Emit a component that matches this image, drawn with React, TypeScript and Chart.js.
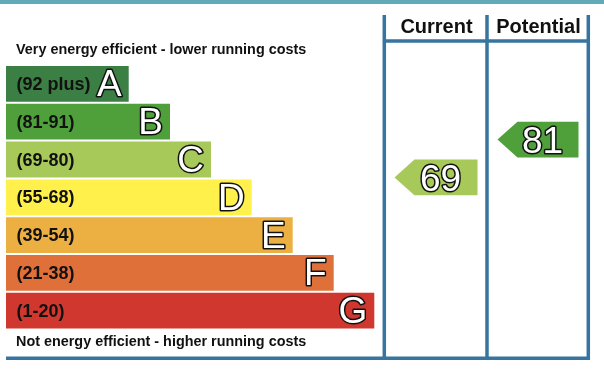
import React, { useEffect, useRef } from 'react';
import { Chart, registerables } from 'chart.js';

Chart.register(...registerables);

const bandLetters = ['A', 'B', 'C', 'D', 'E', 'F', 'G'];
const bandRanges = ['(92 plus)', '(81-91)', '(69-80)', '(55-68)', '(39-54)', '(21-38)', '(1-20)'];
const bandMin = [92, 81, 69, 55, 39, 21, 1];
const bandMax = [100, 91, 80, 68, 54, 38, 20];
const bandLengths = [122.7, 164, 205, 245.7, 286.7, 327.7, 368.3];
const bandColors = ['#3b7f45', '#4fa03b', '#a6c95a', '#fff04c', '#ecb042', '#e0703a', '#d0372f'];
const columnTitles = ['Current', 'Potential'];
const columnRatings = [69, 81];
const topCaption = 'Very energy efficient - lower running costs';
const bottomCaption = 'Not energy efficient - higher running costs';

const FONT = '"Liberation Sans", Arial, Helvetica, sans-serif';
const LINE = '#3775a0';

// layout of the right-hand table (pixels)
const COLS = [
  { left: 386, right: 486 },
  { left: 489, right: 587 },
];

function bandIndexFor(rating: number) {
  for (let i = 0; i < bandMin.length; i++) {
    if (rating >= bandMin[i] && rating <= bandMax[i]) return i;
  }
  return bandMin.length - 1;
}

function outlinedText(ctx: CanvasRenderingContext2D, text: string, x: number, y: number) {
  ctx.lineJoin = 'round';
  ctx.lineWidth = 3;
  ctx.strokeStyle = '#111';
  ctx.strokeText(text, x, y);
  ctx.fillStyle = '#ffffff';
  ctx.fillText(text, x, y);
}

const epcPlugin = {
  id: 'epc',
  beforeDraw(chart: any) {
    const ctx: CanvasRenderingContext2D = chart.ctx;
    ctx.save();
    ctx.fillStyle = '#ffffff';
    ctx.fillRect(0, 0, chart.width, chart.height);
    ctx.fillStyle = '#62a9b9';
    ctx.fillRect(0, 0, chart.width, 4);
    ctx.restore();
  },
  afterDatasetsDraw(chart: any) {
    const ctx: CanvasRenderingContext2D = chart.ctx;
    const meta = chart.getDatasetMeta(0);
    const yScale = chart.scales.y;
    ctx.save();

    // captions
    ctx.fillStyle = '#111';
    ctx.textAlign = 'left';
    ctx.textBaseline = 'alphabetic';
    ctx.font = `bold 14.4px ${FONT}`;
    ctx.fillText(topCaption, 16, 53.5);
    ctx.fillText(bottomCaption, 16, 346);

    let half = 18;
    meta.data.forEach((bar: any, i: number) => {
      const p = bar.getProps(['x', 'y', 'base', 'height'], true);
      half = p.height / 2;
      ctx.font = `bold 18px ${FONT}`;
      ctx.fillStyle = '#111';
      ctx.textAlign = 'left';
      ctx.fillText(bandRanges[i], p.base + 10.5, p.y + 6);
      ctx.font = `37px ${FONT}`;
      ctx.textAlign = 'right';
      outlinedText(ctx, bandLetters[i], p.x - 7, p.y + 12.5);
    });

    // rating arrows
    columnRatings.forEach((rating, c) => {
      const idx = bandIndexFor(rating);
      const pos = idx - 0.5 + (bandMax[idx] - rating + 1) / (bandMax[idx] - bandMin[idx] + 1);
      const cy = yScale.getPixelForValue(pos) - 1;
      const left = COLS[c].left + 8.5;
      const right = COLS[c].right - 8.5;
      const head = 20;
      ctx.beginPath();
      ctx.moveTo(left, cy);
      ctx.lineTo(left + head, cy - half);
      ctx.lineTo(right, cy - half);
      ctx.lineTo(right, cy + half);
      ctx.lineTo(left + head, cy + half);
      ctx.closePath();
      ctx.fillStyle = bandColors[idx];
      ctx.fill();
      ctx.font = `37px ${FONT}`;
      ctx.textAlign = 'center';
      outlinedText(ctx, String(rating), (left + right) / 2 + 4.5, cy + 13.5);
    });

    // column headers
    ctx.font = `bold 20px ${FONT}`;
    ctx.fillStyle = '#111';
    ctx.textAlign = 'center';
    columnTitles.forEach((t, c) => {
      ctx.fillText(t, (COLS[c].left + COLS[c].right) / 2 + 0.5, 32.5);
    });

    // table lines
    ctx.strokeStyle = LINE;
    ctx.lineWidth = 3.5;
    ctx.lineCap = 'butt';
    ctx.beginPath();
    [384.3, 487, 588.3].forEach((x) => {
      ctx.moveTo(x, 15);
      ctx.lineTo(x, 360);
    });
    ctx.moveTo(382.5, 41);
    ctx.lineTo(590, 41);
    ctx.moveTo(6, 358.2);
    ctx.lineTo(590, 358.2);
    ctx.stroke();

    ctx.restore();
  },
};

export default function App() {
  const ref = useRef<HTMLCanvasElement | null>(null);
  useEffect(() => {
    document.body.style.margin = '0';
    const canvas = ref.current;
    if (!canvas) return;
    const chart = new Chart(canvas, {
      type: 'bar',
      data: {
        labels: bandLetters,
        datasets: [
          {
            data: bandLengths,
            backgroundColor: bandColors,
            borderWidth: 0,
            barPercentage: 0.947,
            categoryPercentage: 1,
          },
        ],
      },
      options: {
        indexAxis: 'y',
        responsive: false,
        animation: false,
        events: [],
        layout: { padding: { left: 6, right: 14, top: 65, bottom: 48.4 } },
        plugins: { legend: { display: false }, tooltip: { enabled: false } },
        scales: {
          x: { type: 'linear', display: false, min: 0, max: 584 },
          y: { type: 'category', display: false },
        },
      },
      plugins: [epcPlugin],
    });
    return () => chart.destroy();
  }, []);
  return <canvas ref={ref} width={604} height={378} style={{ display: 'block' }} />;
}
